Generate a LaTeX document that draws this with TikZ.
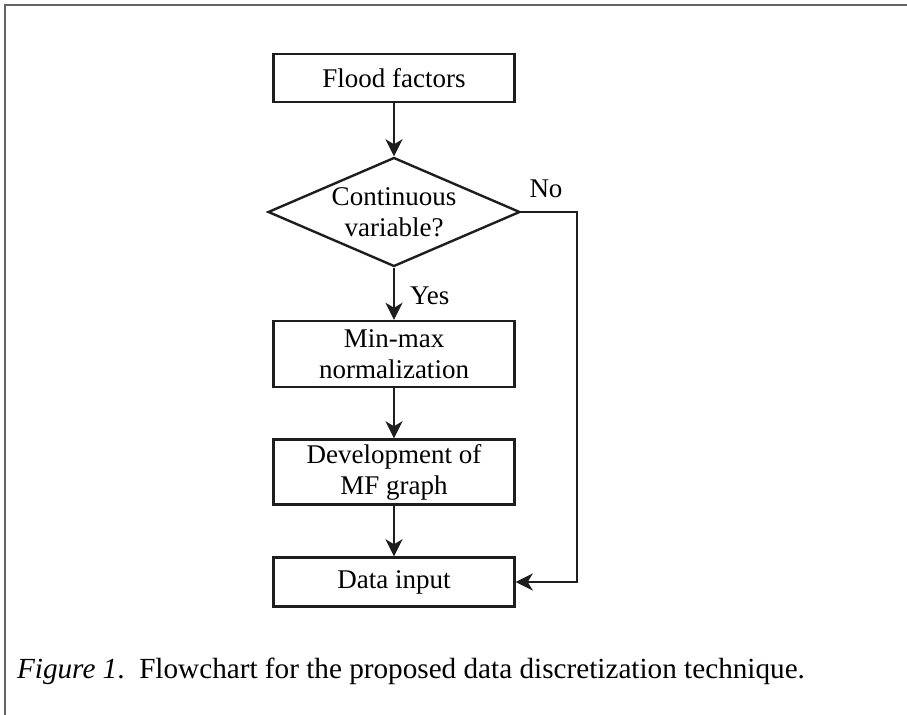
\documentclass[tikz,border=0pt]{standalone}
\usepackage{fontspec}
\setmainfont{Liberation Serif}
\usepackage{tikz}
\usetikzlibrary{arrows.meta, shapes, positioning}
\usepackage{xcolor}
\definecolor{framegray}{RGB}{100,100,100}
\definecolor{inkblack}{RGB}{30,30,30}
\tikzset{stepbox/.style={rectangle, draw=inkblack, line width=1.2pt, fill=white, align=center, inner sep=0pt},
decisionbox/.style={diamond, draw=inkblack, line width=1.2pt, fill=white, align=center, inner sep=0pt, aspect=2.3},
flowarrow/.style={-{Stealth[length=8.5pt, width=8.5pt, inset=2.5pt]}, draw=inkblack, line width=1.4pt}}

\begin{document}
\begin{tikzpicture}[
        x=0.5pt, y=-0.5pt,
        font=\fontsize{13.5}{15.5}\selectfont
    ]
        \useasboundingbox (0, 0) rectangle (907, 715);
        % Frame
        \draw[framegray, line width=1pt] (5, 715) -- (5, 5) -- (907, 5);
        % Steps
        \node[stepbox, minimum width=120.5pt, minimum height=24pt] (flood) at (394, 78) {Flood factors};
        \node[decisionbox, minimum width=126pt, minimum height=54.5pt] (cont) at (394, 212) {Continuous\\variable?};
        \node[stepbox, minimum width=120.5pt, minimum height=33pt] (minmax) at (394, 354) {Min-max\\normalization};
        \node[stepbox, minimum width=120.5pt, minimum height=32.5pt] (devmf) at (394, 472) {Development of\\MF graph};
        \node[stepbox, minimum width=120.5pt, minimum height=24.5pt] (datain) at (394, 582) {Data input};
        \coordinate (noturn) at (577, 212);
        \coordinate (nodown) at (577, 582);
        % Arrows
        \draw[flowarrow] (flood) -- (cont);
        \draw[flowarrow] (cont) -- node[right, xshift=4pt, yshift=-1pt] {Yes} (minmax);
        \draw[flowarrow] (minmax) -- (devmf);
        \draw[flowarrow] (devmf) -- (datain);
        \draw[flowarrow] (cont.east) -- (noturn) -- (nodown) -- (datain.east);
        \node (nolabel) at (546, 189) {No};
        % Caption
        \node[anchor=west, font=\fontsize{14.6}{17}\selectfont] (caption) at (10, 671) {\textit{Figure 1}.\ \ Flowchart for the proposed data discretization technique.};
    \end{tikzpicture}
\end{document}
